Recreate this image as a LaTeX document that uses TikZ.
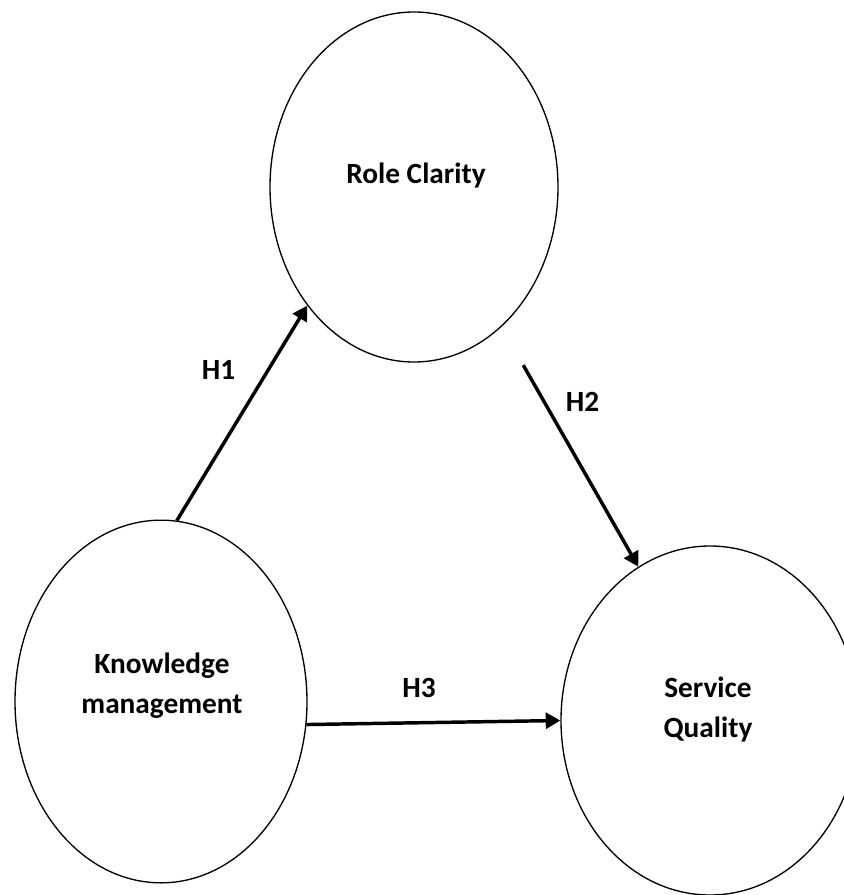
\documentclass[tikz,border=0pt]{standalone}
\usepackage{fontspec}
\setmainfont{Carlito}
\usetikzlibrary{shapes.geometric,arrows.meta}

\tikzset{
  construct/.style={draw, ellipse, line width=1pt, inner sep=0pt},
  constext/.style={align=center, font=\bfseries\fontsize{22}{30}\selectfont, inner sep=0pt},
  hyp/.style={line width=2.6pt, -{Triangle[length=11pt,width=12pt]}},
  hyplabel/.style={font=\bfseries\fontsize{22}{26}\selectfont, inner sep=0pt}
}

\begin{document}
\begin{tikzpicture}[x=0.75pt,y=0.75pt,yscale=-1]
\useasboundingbox (0,0) rectangle (843,895);

% constructs
\node [construct, minimum width=216pt, minimum height=262.5pt] (rc) at (414,187) {};
\node [construct, minimum width=219pt, minimum height=272pt] (km) at (161,701.5) {};
\node [construct, minimum width=223.5pt, minimum height=261.75pt] (sq) at (710,720.5) {};

\node [constext, anchor=base] (rctext) at (416,183) {Role Clarity};
\node [constext] (kmtext) at (162,686) {Knowledge\\management};
\node [constext] (sqtext) at (708,710) {Service\\Quality};

% hypotheses
\draw [hyp] (km.85) -- (rc.228.8);
\draw [hyp, shorten <=33pt] (rc.-58.4) -- (sq.115.1);
\draw [hyp] (km.-9.6) -- (sq.180.6);

% labels
\node [hyplabel] (h1) at (218.5,369.5) {H1};
\node [hyplabel] (h2) at (582.5,402) {H2};
\node [hyplabel] (h3) at (419,688) {H3};

\end{tikzpicture}
\end{document}
